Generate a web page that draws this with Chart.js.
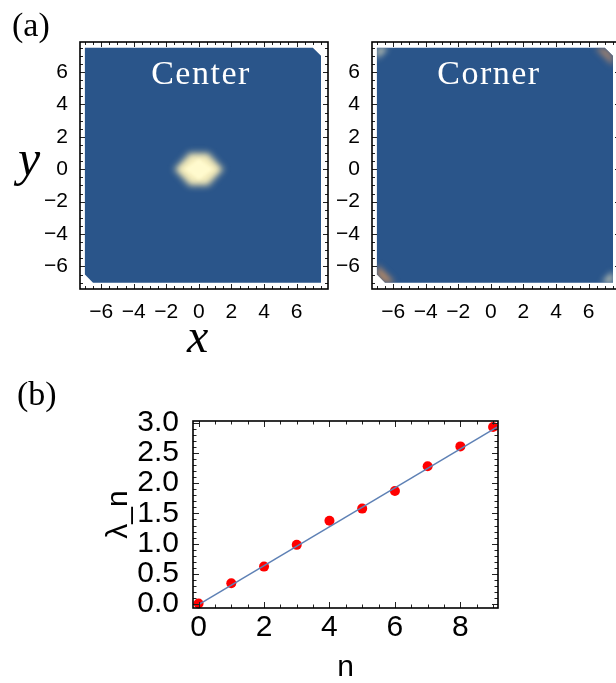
<!DOCTYPE html>
<html>
<head>
<meta charset="utf-8">
<script src="https://cdn.jsdelivr.net/npm/chart.js@4.4.1/dist/chart.umd.min.js"></script>
<style>
  html, body { margin: 0; padding: 0; background: #fff; overflow: hidden; }
  body { position: relative; width: 616px; height: 683px; }
  .box { position: absolute; }
  .lbl { position: absolute; font-family: "Liberation Serif", serif; line-height: 1; white-space: nowrap; color: #000; }
  .tag { color: #fff; font-size: 34px; letter-spacing: 1.5px; width: 120px; text-align: center; top: 56px; }
</style>
</head>
<body>
<div class="box" style="left:0;top:0;width:330px;height:360px"><canvas id="center"></canvas></div>
<div class="box" style="left:292px;top:0;width:330px;height:360px"><canvas id="corner"></canvas></div>
<div class="box" style="left:0;top:370px;width:616px;height:313px"><canvas id="spectrum"></canvas></div>

<div class="lbl" style="left:12px;top:8px;font-size:34px">(a)</div>
<div class="lbl" style="left:17px;top:377px;font-size:34px">(b)</div>
<div class="lbl" style="left:18px;top:133px;font-size:50px;font-style:italic">y</div>
<div class="lbl" style="left:187px;top:312px;font-size:48px;font-style:italic">x</div>
<div class="lbl tag" style="left:141px">Center</div>
<div class="lbl tag" style="left:429px">Corner</div>

<script>
// panel (a): tick labels
const xTicksA = [-6, -4, -2, 0, 2, 4, 6];
const yTicksA = [-6, -4, -2, 0, 2, 4, 6];

// outline of the computed lattice (two cut corners)
const regionX = [-7, 7.0, 7.5, 7.5, -6.5, -7, -7];
const regionY = [7.5, 7.5, 7.0, -7, -7, -6.5, 7.5];

// "Center" state: bright spot round the origin
const haloX = [-1.55, -0.6, 0.6, 1.55, 0.6, -0.6];
const haloY = [0, 1.05, 1.05, 0, -1.05, -1.05];
const midX = [-1.25, -0.45, 0.45, 1.25, 0.45, -0.45];
const midY = [0, 0.8, 0.8, 0, -0.8, -0.8];
const coreX = [-0.85, 0, 0.85, 0];
const coreY = [0, 0.65, 0, -0.65];

// "Corner" state: faint weight in the four corners
const tlX = [-7, -6.3, -7];
const tlY = [7.5, 7.5, 6.8];
const trX = [6.4, 7.0, 7.5, 7.5];
const trY = [7.5, 7.5, 7.0, 6.4];
const blX = [-7, -7, -6.5, -5.9];
const blY = [-5.9, -6.5, -7, -7];
const brX = [7.5, 6.8, 7.5];
const brY = [-7, -7, -6.3];

// panel (b)
const nValues = [0, 1, 2, 3, 4, 5, 6, 7, 8, 9];
const lambdaValues = [0.01, 0.345, 0.62, 0.98, 1.38, 1.58, 1.87, 2.28, 2.61, 2.93];
const fitN = [0, 9.12];
const fitLambda = [-0.01, 2.93];
const xTicksB = [0, 2, 4, 6, 8];
const yTicksB = [0, 0.5, 1, 1.5, 2, 2.5, 3];

const BLUE = "rgb(42,85,138)";

const toPoints = (xs, ys) => xs.map((x, i) => ({ x, y: ys[i] }));
const minus = (v) => (v < 0 ? "\u2212" + Math.abs(v) : String(v));

// paints the glow shapes blurred, clipped to the lattice outline
const glowPlugin = {
  id: "glow",
  afterDatasetsDraw(chart) {
    const { ctx } = chart;
    const regionIndex = chart.data.datasets.findIndex((d) => d.region);
    if (regionIndex < 0) return;
    const outline = chart.getDatasetMeta(regionIndex).data;
    chart.data.datasets.forEach((ds, i) => {
      if (!ds.glow) return;
      const pts = chart.getDatasetMeta(i).data;
      ctx.save();
      ctx.beginPath();
      outline.forEach((p, k) => (k ? ctx.lineTo(p.x, p.y) : ctx.moveTo(p.x, p.y)));
      ctx.closePath();
      ctx.clip();
      ctx.filter = `blur(${ds.glow}px)`;
      ctx.fillStyle = ds.glowColor;
      ctx.beginPath();
      pts.forEach((p, k) => (k ? ctx.lineTo(p.x, p.y) : ctx.moveTo(p.x, p.y)));
      ctx.closePath();
      ctx.fill();
      ctx.restore();
    });
  },
};

// Mathematica style frame with inward ticks on all sides
function steps(scale, step) {
  const out = [];
  const k0 = Math.ceil(scale.min / step - 1e-9);
  const k1 = Math.floor(scale.max / step + 1e-9);
  for (let k = k0; k <= k1; k++) out.push(k * step);
  return out;
}

const framePlugin = {
  id: "frame",
  afterDraw(chart, args, o) {
    const { ctx, chartArea: a, scales } = chart;
    const { x, y } = scales;
    const isMajor = (scale, v) => scale.ticks.some((t) => Math.abs(t.value - v) < 1e-6);
    ctx.save();
    ctx.strokeStyle = "#222";
    ctx.lineWidth = 1;
    ctx.beginPath();
    steps(x, o.minorX).forEach((v) => {
      const px = Math.round(x.getPixelForValue(v)) + 0.5;
      const len = isMajor(x, v) ? o.majorLen : o.minorLen;
      ctx.moveTo(px, a.bottom);
      ctx.lineTo(px, a.bottom - len);
      ctx.moveTo(px, a.top);
      ctx.lineTo(px, a.top + len);
    });
    steps(y, o.minorY).forEach((v) => {
      const py = Math.round(y.getPixelForValue(v)) + 0.5;
      const len = isMajor(y, v) ? o.majorLen : o.minorLen;
      ctx.moveTo(a.left, py);
      ctx.lineTo(a.left + len, py);
      ctx.moveTo(a.right, py);
      ctx.lineTo(a.right - len, py);
    });
    ctx.stroke();
    ctx.strokeStyle = "#000";
    ctx.lineWidth = 1.6;
    ctx.strokeRect(a.left, a.top, a.right - a.left, a.bottom - a.top);
    ctx.restore();
  },
};

function densityPanel(id, glows) {
  const tickFont = { family: "'Liberation Sans', Arial, sans-serif", size: 21 };
  const datasets = glows.map((g) => ({
    data: toPoints(g.x, g.y),
    glow: g.blur,
    glowColor: g.color,
    showLine: false,
    pointRadius: 0,
  }));
  datasets.push({
    data: toPoints(regionX, regionY),
    region: true,
    showLine: true,
    fill: "shape",
    backgroundColor: BLUE,
    borderWidth: 0,
    pointRadius: 0,
    tension: 0,
  });

  new Chart(document.getElementById(id), {
    type: "scatter",
    data: { datasets },
    options: {
      responsive: true,
      maintainAspectRatio: false,
      animation: false,
      events: [],
      layout: { padding: { top: 42, right: 2, left: 0, bottom: 0 } },
      plugins: {
        legend: { display: false },
        tooltip: { enabled: false },
        frame: { minorX: 0.5, minorY: 0.5, majorLen: 5, minorLen: 3 },
      },
      scales: {
        x: {
          type: "linear",
          min: -7.3,
          max: 7.93,
          afterBuildTicks: (s) => { s.ticks = xTicksA.map((v) => ({ value: v })); },
          afterFit: (s) => { s.height = 71; },
          grid: { display: false },
          border: { display: false },
          ticks: { color: "#000", font: tickFont, padding: 3, maxRotation: 0, autoSkip: false, callback: minus },
        },
        y: {
          type: "linear",
          min: -7.39,
          max: 7.85,
          afterBuildTicks: (s) => { s.ticks = yTicksA.map((v) => ({ value: v })); },
          afterFit: (s) => { s.width = 80; },
          grid: { display: false },
          border: { display: false },
          ticks: { color: "#000", font: tickFont, padding: 4, autoSkip: false, callback: minus },
        },
      },
    },
    plugins: [glowPlugin, framePlugin],
  });
}

densityPanel("center", [
  { x: haloX, y: haloY, blur: 3, color: "rgba(236,226,176,0.75)" },
  { x: midX, y: midY, blur: 2.5, color: "rgb(247,239,190)" },
  { x: coreX, y: coreY, blur: 1.5, color: "rgb(255,250,206)" },
]);

densityPanel("corner", [
  { x: tlX, y: tlY, blur: 3, color: "rgba(246,238,196,0.8)" },
  { x: trX, y: trY, blur: 3, color: "rgba(178,138,108,0.9)" },
  { x: blX, y: blY, blur: 3, color: "rgba(206,146,96,0.95)" },
  { x: brX, y: brY, blur: 3, color: "rgba(246,238,196,0.8)" },
]);

const sansFont = "'Liberation Sans', Arial, sans-serif";

new Chart(document.getElementById("spectrum"), {
  type: "scatter",
  data: {
    datasets: [
      {
        data: toPoints(fitN, fitLambda),
        showLine: true,
        borderColor: "#5e81b5",
        borderWidth: 1.5,
        pointRadius: 0,
        tension: 0,
      },
      {
        data: toPoints(nValues, lambdaValues),
        showLine: false,
        pointRadius: 5,
        backgroundColor: "#ff0000",
        borderWidth: 0,
        clip: false,
      },
    ],
  },
  options: {
    responsive: true,
    maintainAspectRatio: false,
    animation: false,
    events: [],
    layout: { padding: { top: 51, right: 118, left: 0, bottom: 0 } },
    plugins: {
      legend: { display: false },
      tooltip: { enabled: false },
      frame: { minorX: 0.5, minorY: 0.1, majorLen: 6, minorLen: 3.5 },
    },
    scales: {
      x: {
        type: "linear",
        min: -0.17,
        max: 9.15,
        afterBuildTicks: (s) => { s.ticks = xTicksB.map((v) => ({ value: v })); },
        afterFit: (s) => { s.height = 75; },
        grid: { display: false },
        border: { display: false },
        ticks: { color: "#000", font: { family: sansFont, size: 30 }, padding: -6, maxRotation: 0, autoSkip: false },
        title: {
          display: true,
          text: "n",
          color: "#000",
          font: { family: sansFont, size: 30, lineHeight: 1 },
          padding: { top: 0, bottom: 0 },
        },
      },
      y: {
        type: "linear",
        min: -0.065,
        max: 3.03,
        afterBuildTicks: (s) => { s.ticks = yTicksB.map((v) => ({ value: v })); },
        afterFit: (s) => { s.width = 193; },
        grid: { display: false },
        border: { display: false },
        ticks: { color: "#000", font: { family: sansFont, size: 30 }, padding: 6, autoSkip: false, callback: (v) => v.toFixed(1) },
        title: {
          display: true,
          text: "λ_n",
          color: "#000",
          font: { family: sansFont, size: 30, lineHeight: 1 },
          padding: { top: 104, bottom: 0 },
        },
      },
    },
  },
  plugins: [framePlugin],
});
</script>
</body>
</html>
